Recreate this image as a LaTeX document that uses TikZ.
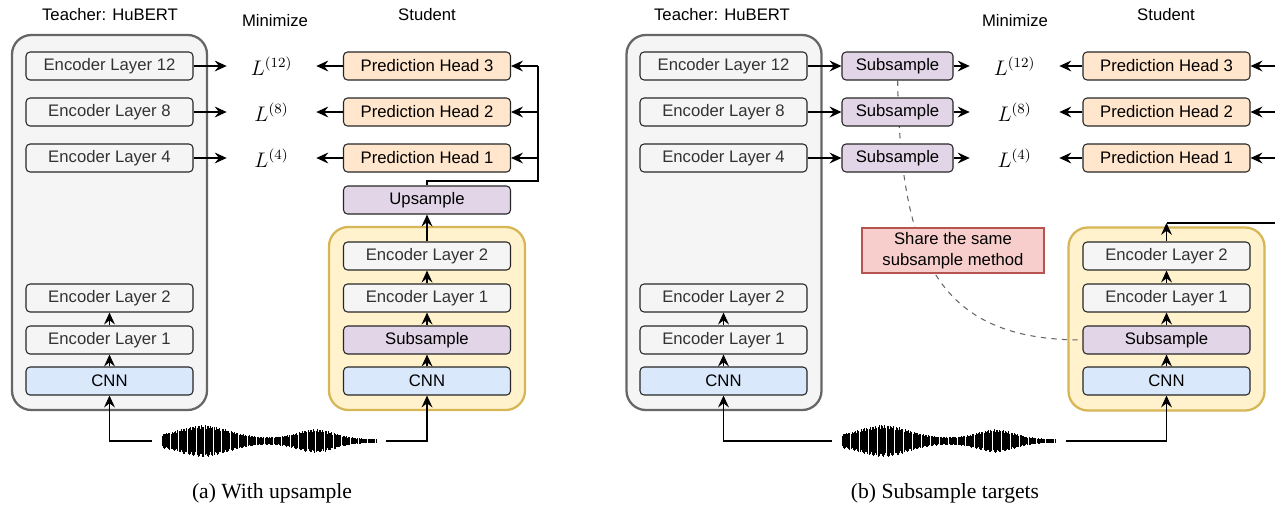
\documentclass[tikz,border=0pt]{standalone}
\usepackage{fontspec}
\setsansfont{Liberation Sans}
\newfontfamily\capfont{Liberation Serif}
\usetikzlibrary{arrows.meta}
\pgfdeclarelayer{bg}
\pgfdeclarelayer{links}
\pgfsetlayers{bg,links,main}
\definecolor{grayfill}{HTML}{F5F5F5}
\definecolor{grayline}{HTML}{666666}
\definecolor{graytext}{HTML}{333333}
\definecolor{yellowfill}{HTML}{FFF2CC}
\definecolor{yellowline}{HTML}{D6B656}
\definecolor{purplefill}{HTML}{E1D5E7}
\definecolor{orangefill}{HTML}{FFE6CC}
\definecolor{bluefill}{HTML}{DAE8FC}
\definecolor{redfill}{HTML}{F8CECC}
\definecolor{redline}{HTML}{B85450}
\tikzset{
  blk/.style={draw=black!85, line width=0.6pt, rounded corners=2.3pt, minimum width=33.4mm,
    minimum height=5.6mm, inner sep=0pt, font=\sffamily\fontsize{9.5}{11}\selectfont},
  enclayer/.style={blk, fill=grayfill, text=graytext},
  predhead/.style={blk, fill=orangefill},
  sampler/.style={blk, fill=purplefill},
  cnn/.style={blk, fill=bluefill},
  teacherbox/.style={draw=grayline, fill=grayfill, line width=1.3pt, rounded corners=11pt,
    minimum width=39mm, minimum height=75mm},
  studentbox/.style={draw=yellowline, fill=yellowfill, line width=1.3pt, rounded corners=11pt,
    minimum width=39.2mm, minimum height=36.6mm},
  sharebox/.style={draw=redline, fill=redfill, line width=0.6pt, minimum width=36.4mm,
    minimum height=9mm, inner sep=0pt, align=center, font=\sffamily\fontsize{9.5}{12}\selectfont},
  headline/.style={font=\sffamily\fontsize{9.5}{11}\selectfont},
  loss/.style={minimum width=17.8mm, inner sep=0pt, font=\fontsize{11.5}{13}\selectfont},
  captext/.style={font=\capfont\fontsize{12.3}{14}\selectfont},
  link/.style={line width=0.6pt},
  arr/.style={link, -{Stealth[length=6.8pt,width=6.2pt,inset=2.4pt]}},
  sharelink/.style={line width=0.6pt, grayline, dash pattern=on 3pt off 3pt},
  wave/.style={ycomb, line width=0.55pt, black},
  declare function={wenv(\t,\k)=(4.5-2.5*\t/214+12*exp(-((\t-42)/34)^2)+9*exp(-((\t-154)/26)^2))*(0.72+0.28*abs(sin(\t*\k)));}
}
\begin{document}
\begin{tikzpicture}[x=0.2mm,y=-0.2mm]
\useasboundingbox (0,0) rectangle (1275,507);
\clip (0,0) rectangle (1275,507);
% (a) with upsample
\node[headline] (teachTitleA) at (110,15) {Teacher: HuBERT};
\node[headline] (minTitleA) at (275,21) {Minimize};
\node[headline] (stuTitleA) at (427,15) {Student};
\begin{pgfonlayer}{bg}
\node[teacherbox] (teachA) at (109.5,222.5) {};
\node[studentbox] (stuA) at (427,318.5) {};
\end{pgfonlayer}
\foreach \n/\y in {12/66,8/112,4/158,2/298,1/340}
  \node[enclayer] (tA\n) at (109.5,\y) {Encoder Layer \n};
\node[cnn] (tAcnn) at (109.5,381) {CNN};
\foreach \n/\y in {12/66,8/112,4/158}
  \node[loss] (lA\n) at (271.5,\y) {$L^{(\n)}$};
\foreach \n/\y in {3/66,2/112,1/158}
  \node[predhead] (pA\n) at (427,\y) {Prediction Head \n};
\node[sampler] (upA) at (427,200) {Upsample};
\node[enclayer] (sA2) at (427,256) {Encoder Layer 2};
\node[enclayer] (sA1) at (427,298) {Encoder Layer 1};
\node[sampler] (subA) at (427,340) {Subsample};
\node[cnn] (sAcnn) at (427,381) {CNN};
\foreach \a/\b in {tAcnn/tA1,tA1/tA2,sAcnn/subA,subA/sA1,sA1/sA2,sA2/upA}
  \draw[arr] (\a) -- (\b);
\foreach \n/\m in {12/3,8/2,4/1} {
  \draw[arr] (tA\n) -- (lA\n);
  \draw[arr] (pA\m) -- (lA\n);
}
\coordinate (feedA) at (538,181);
\draw[link] (upA) |- (feedA) -- (feedA |- pA3);
\foreach \m in {3,2,1}
  \draw[arr] (feedA |- pA\m) -- (pA\m);
\coordinate (waveAin) at (152,441);
\coordinate (waveAout) at (386,441);
\draw[arr] (waveAin) -| (tAcnn);
\draw[arr] (waveAout) -| (sAcnn);
\begin{scope}[shift={(162,441)}]
\draw[wave] plot[domain=0:214,samples=190] (\x,{-wenv(\x,61)});
\draw[wave] plot[domain=0:214,samples=190] (\x,{wenv(\x,37)});
\end{scope}
\node[captext] (capA) at (272,493) {(a) With upsample};
% (b) subsample targets
\node[headline] (teachTitleB) at (722,15) {Teacher: HuBERT};
\node[headline] (minTitleB) at (1015,21) {Minimize};
\node[headline] (stuTitleB) at (1166,15) {Student};
\begin{pgfonlayer}{bg}
\node[teacherbox] (teachB) at (724,222.5) {};
\node[studentbox] (stuB) at (1166.5,319) {};
\end{pgfonlayer}
\foreach \n/\y in {12/66,8/112,4/158,2/298,1/340}
  \node[enclayer] (tB\n) at (723.5,\y) {Encoder Layer \n};
\node[cnn] (tBcnn) at (723.5,381) {CNN};
\foreach \n/\y in {12/66,8/112,4/158} {
  \node[sampler, minimum width=22.2mm] (subB\n) at (897.5,\y) {Subsample};
  \node[loss] (lB\n) at (1014.5,\y) {$L^{(\n)}$};
}
\foreach \n/\y in {3/66,2/112,1/158}
  \node[predhead] (pB\n) at (1166.5,\y) {Prediction Head \n};
\node[enclayer] (sB2) at (1166.5,256) {Encoder Layer 2};
\node[enclayer] (sB1) at (1166.5,298) {Encoder Layer 1};
\node[sampler] (subB) at (1166.5,340) {Subsample};
\node[cnn] (sBcnn) at (1166.5,381) {CNN};
\node[sharebox] (share) at (953,250.5) {Share the same\\subsample method};
\foreach \a/\b in {tBcnn/tB1,tB1/tB2,sBcnn/subB,subB/sB1,sB1/sB2}
  \draw[arr] (\a) -- (\b);
\foreach \n/\m in {12/3,8/2,4/1} {
  \draw[arr] (tB\n) -- (subB\n);
  \draw[arr] (subB\n) -- (lB\n);
  \draw[arr] (pB\m) -- (lB\n);
}
\begin{pgfonlayer}{links}
\draw[sharelink] (subB12) .. controls (900,260) and (940,340) .. (subB);
\end{pgfonlayer}
\coordinate (feedB) at (1166.5,223);
\coordinate (feedBend) at (1295,223);
\draw[arr] (sB2) -- (feedB);
\draw[link] (feedB) -- (feedBend) -- (feedBend |- pB3);
\foreach \m in {3,2,1}
  \draw[arr] (feedBend |- pB\m) -- (pB\m);
\coordinate (waveBin) at (832,441);
\coordinate (waveBout) at (1066,441);
\draw[arr] (waveBin) -| (tBcnn);
\draw[arr] (waveBout) -| (sBcnn);
\begin{scope}[shift={(842,441)}]
\draw[wave] plot[domain=0:213,samples=190] (\x,{-wenv(\x,61)});
\draw[wave] plot[domain=0:213,samples=190] (\x,{wenv(\x,37)});
\end{scope}
\node[captext] (capB) at (945,493) {(b) Subsample targets};
\end{tikzpicture}
\end{document}
